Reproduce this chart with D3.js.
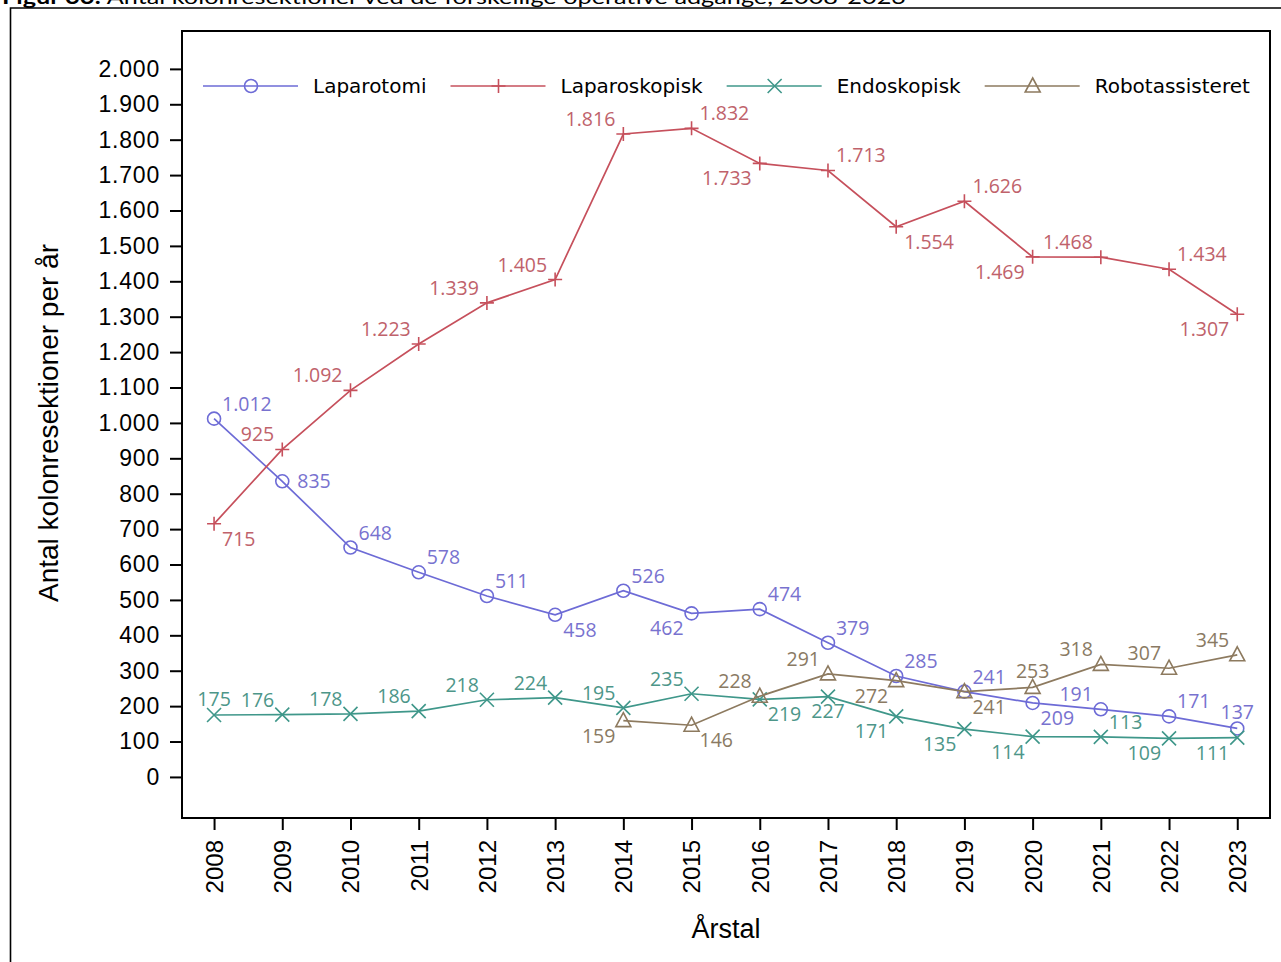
<!DOCTYPE html>
<html><head><meta charset="utf-8">
<script src="https://cdn.jsdelivr.net/npm/d3@7"></script>
<style>body{margin:0;background:#fff;overflow:hidden} svg{display:block}</style>
</head><body>
<script>
// ---------- DATA ----------
const years = [2008,2009,2010,2011,2012,2013,2014,2015,2016,2017,2018,2019,2020,2021,2022,2023];
const seriesNames = ["Laparotomi","Laparoskopisk","Endoskopisk","Robotassisteret"];
const laparotomi    = [1012,835,648,578,511,458,526,462,474,379,285,241,209,191,171,137];
const laparoskopisk = [715,925,1092,1223,1339,1405,1816,1832,1733,1713,1554,1626,1469,1468,1434,1307];
const endoskopisk   = [175,176,178,186,218,224,195,235,219,227,171,135,114,113,109,111];
const robotassisteret = [null,null,null,null,null,null,159,146,228,291,272,241,253,318,307,345];
const yTickValues = [0,100,200,300,400,500,600,700,800,900,1000,1100,1200,1300,1400,1500,1600,1700,1800,1900,2000];
const titleBold = "Figur 33:";
const titleRest = " Antal kolonresektioner ved de forskellige operative adgange, 2008-2023";
const yTitle = "Antal kolonresektioner per år";
const xTitle = "Årstal";

// label placement (direction relative to the point), per series
const placeLaparotomi = ['NE','E','NE','NE','NE','SE','NE','SW','NE','NE','NE','NE','SE','NW','NE','N'];
const placeLaparoskopisk = ['SE','NW','NW','NW','NW','NW','NW','NE','SW','NE','SE','NE','SW','NW','NE','SW'];
const placeEndoskopisk = ['N','NW','NW','NW','NW','NW','NW','NW','SE','S','SW','SW','SW','NE','SW','SW'];
const placeRobot = [null,null,null,null,null,null,'SW','SE','NW','NW','SW','SE','N','NW','NW','NW'];

// ---------- SETUP ----------
const W = 1281, H = 962;
const svg = d3.select("body").append("svg").attr("width", W).attr("height", H);
const loc = d3.formatLocale({decimal: ",", thousands: ".", grouping: [3], currency: ["", " kr."]});
const fmt = loc.format(",d");

const plot = {left: 182, top: 31, right: 1270, bottom: 818};
const x = d3.scaleLinear().domain([2007.53, 2023.48]).range([plot.left, plot.right]);
const y = d3.scaleLinear().domain([-116, 2107]).range([plot.bottom, plot.top]);

const series = [
  {name: seriesNames[0], values: laparotomi, place: placeLaparotomi, line: "#6d6bd6", text: "#7872cf", marker: "circle"},
  {name: seriesNames[1], values: laparoskopisk, place: placeLaparoskopisk, line: "#c6505c", text: "#c0626b", marker: "plus"},
  {name: seriesNames[2], values: endoskopisk, place: placeEndoskopisk, line: "#3f978a", text: "#4d9689", marker: "x"},
  {name: seriesNames[3], values: robotassisteret, place: placeRobot, line: "#8d7a5f", text: "#8a7a63", marker: "triangle"}
];

// ---------- TITLE (cut at top, as in the reference) ----------
const t = svg.append("text").attr("x", 2).attr("y", 4)
  .attr("font-family", "Lato, 'Open Sans', sans-serif").attr("font-size", 20)
  .attr("textLength", 904).attr("lengthAdjust", "spacingAndGlyphs").attr("fill", "#000");
t.append("tspan").attr("font-weight", "bold").text(titleBold);
t.append("tspan").text(titleRest);

// outer frame
svg.append("path").attr("d", `M10.5,${H} V8 H${W}`).attr("fill", "none").attr("stroke", "#000").attr("stroke-width", 1.6);

// ---------- AXES ----------
const yAxis = svg.append("g").attr("transform", `translate(${plot.left},0)`)
  .call(d3.axisLeft(y).tickValues(yTickValues).tickSize(12).tickPadding(10).tickFormat(fmt));
yAxis.select(".domain").remove();
yAxis.selectAll(".tick line").attr("stroke", "#000").attr("stroke-width", 2);
yAxis.selectAll(".tick text").attr("font-family", "'Liberation Sans', Arial, sans-serif")
  .attr("font-size", 23).attr("fill", "#000").attr("letter-spacing", 0.8);

const xAxis = svg.append("g").attr("transform", `translate(0,${plot.bottom})`)
  .call(d3.axisBottom(x).tickValues(years).tickSize(12).tickFormat(d3.format("d")));
xAxis.select(".domain").remove();
xAxis.selectAll(".tick line").attr("stroke", "#000").attr("stroke-width", 2);
xAxis.selectAll(".tick text").attr("font-family", "'Liberation Sans', Arial, sans-serif")
  .attr("font-size", 24).attr("fill", "#000")
  .attr("transform", "rotate(-90)").attr("text-anchor", "end")
  .attr("x", -22).attr("y", 0).attr("dy", "0.35em");

// plot frame
svg.append("rect").attr("x", plot.left).attr("y", plot.top)
  .attr("width", plot.right - plot.left).attr("height", plot.bottom - plot.top)
  .attr("fill", "none").attr("stroke", "#000").attr("stroke-width", 2);

// axis titles
svg.append("text").attr("transform", "translate(58,423) rotate(-90)")
  .attr("text-anchor", "middle").attr("font-family", "'Liberation Sans', Arial, sans-serif")
  .attr("font-size", 28).attr("fill", "#000").text(yTitle);
svg.append("text").attr("x", 726).attr("y", 938)
  .attr("text-anchor", "middle").attr("font-family", "'Liberation Sans', Arial, sans-serif")
  .attr("font-size", 27).attr("fill", "#000").text(xTitle);

// ---------- MARKERS ----------
function drawMarker(g, type, cx, cy, color) {
  const s = 7;
  if (type === "circle") {
    g.append("circle").attr("cx", cx).attr("cy", cy).attr("r", 6.5)
      .attr("fill", "none").attr("stroke", color).attr("stroke-width", 1.6);
  } else if (type === "plus") {
    g.append("path").attr("d", `M${cx - s},${cy} H${cx + s} M${cx},${cy - s} V${cy + s}`)
      .attr("stroke", color).attr("stroke-width", 1.6).attr("fill", "none");
  } else if (type === "x") {
    g.append("path").attr("d", `M${cx - s},${cy - s} L${cx + s},${cy + s} M${cx - s},${cy + s} L${cx + s},${cy - s}`)
      .attr("stroke", color).attr("stroke-width", 1.6).attr("fill", "none");
  } else if (type === "triangle") {
    g.append("path").attr("d", `M${cx},${cy - 8} L${cx + 7.5},${cy + 6} L${cx - 7.5},${cy + 6} Z`)
      .attr("stroke", color).attr("stroke-width", 1.6).attr("fill", "none");
  }
}

function labelPos(p, px, py) {
  switch (p) {
    case 'NE': return {x: px + 8, y: py - 8, a: 'start'};
    case 'NW': return {x: px - 8, y: py - 8, a: 'end'};
    case 'SE': return {x: px + 8, y: py + 22, a: 'start'};
    case 'SW': return {x: px - 8, y: py + 22, a: 'end'};
    case 'N':  return {x: px, y: py - 9, a: 'middle'};
    case 'S':  return {x: px, y: py + 21, a: 'middle'};
    case 'E':  return {x: px + 15, y: py + 7, a: 'start'};
  }
}

// ---------- SERIES ----------
series.forEach(s => {
  const g = svg.append("g");
  const pts = years.map((yr, i) => ({yr, v: s.values[i], p: s.place[i]})).filter(d => d.v != null);
  const line = d3.line().x(d => x(d.yr)).y(d => y(d.v));
  g.append("path").datum(pts).attr("d", line).attr("fill", "none")
    .attr("stroke", s.line).attr("stroke-width", 1.7);
  pts.forEach(d => drawMarker(g, s.marker, x(d.yr), y(d.v), s.line));
  pts.forEach(d => {
    const lp = labelPos(d.p, x(d.yr), y(d.v));
    g.append("text").attr("x", lp.x).attr("y", lp.y).attr("text-anchor", lp.a)
      .attr("font-family", "'Open Sans', sans-serif").attr("font-size", 19.5)
      .attr("fill", s.text).text(fmt(d.v));
  });
});

// ---------- LEGEND ----------
const leg = svg.append("g");
let lx = 203;
const ly = 86;
series.forEach(s => {
  leg.append("line").attr("x1", lx).attr("x2", lx + 95).attr("y1", ly).attr("y2", ly)
    .attr("stroke", s.line).attr("stroke-width", 1.7);
  drawMarker(leg, s.marker, lx + 48, ly, s.line);
  const tx = leg.append("text").attr("x", lx + 110).attr("y", ly + 7)
    .attr("font-family", "'DejaVu Sans', sans-serif").attr("font-size", 20)
    .attr("fill", "#000").text(s.name);
  lx = lx + 110 + tx.node().getComputedTextLength() + 24;
});
</script>
</body></html>
